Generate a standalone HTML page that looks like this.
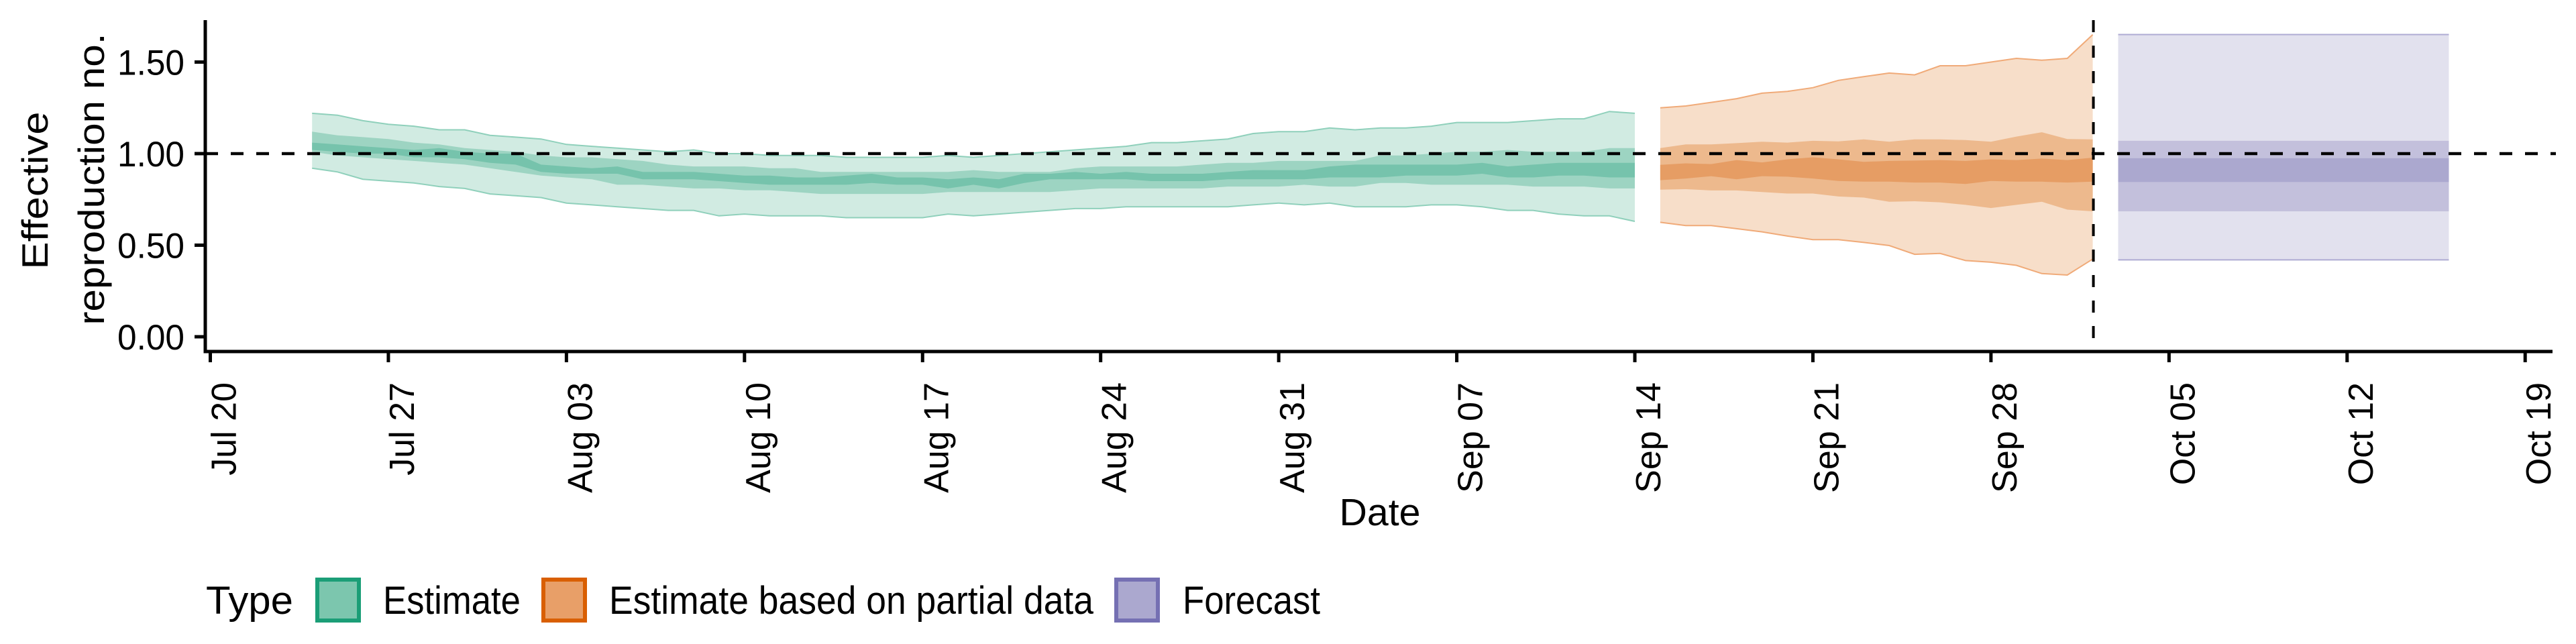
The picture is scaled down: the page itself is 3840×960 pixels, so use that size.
<!DOCTYPE html>
<html><head><meta charset="utf-8">
<style>
html,body{margin:0;padding:0;background:#fff;}
svg{display:block;font-family:"Liberation Sans",Arial,sans-serif;}
</style></head>
<body>
<svg id="chart" width="3840" height="960" viewBox="0 0 3840 960" xmlns="http://www.w3.org/2000/svg">
  <g id="bands"></g>
  <g id="refs"></g>
  <g id="axes"></g>
  <g id="legend"></g>
</svg>
<script>
// ---- data ----
const startDate = "2020-07-20";
const xTickLabels = ["Jul 20","Jul 27","Aug 03","Aug 10","Aug 17","Aug 24","Aug 31","Sep 07","Sep 14","Sep 21","Sep 28","Oct 05","Oct 12","Oct 19"];
const xTickDays = [0,7,14,21,28,35,42,49,56,63,70,77,84,91];
const yTicks = [0, 0.5, 1.0, 1.5];
const yTickLabels = ["0.00","0.50","1.00","1.50"];

// Estimate: days 4..56
const estStartDay = 4;
const estUpper90 = [1.22,1.21,1.18,1.16,1.15,1.13,1.13,1.10,1.09,1.08,1.05,1.04,1.03,1.02,1.01,1.02,1.00,1.00,0.99,0.99,0.99,0.98,0.98,0.98,0.98,0.99,0.98,0.99,1.00,1.01,1.02,1.03,1.04,1.06,1.06,1.07,1.08,1.11,1.12,1.12,1.14,1.13,1.14,1.14,1.15,1.17,1.17,1.17,1.18,1.19,1.19,1.23,1.22];
const estLower90 = [0.92,0.90,0.86,0.85,0.84,0.82,0.81,0.78,0.77,0.76,0.73,0.72,0.71,0.70,0.69,0.69,0.66,0.67,0.66,0.66,0.66,0.65,0.65,0.65,0.65,0.67,0.66,0.67,0.68,0.69,0.70,0.70,0.71,0.71,0.71,0.71,0.71,0.72,0.73,0.72,0.73,0.71,0.71,0.71,0.72,0.72,0.71,0.69,0.69,0.67,0.66,0.66,0.63];
const estUpper50 = [1.12,1.10,1.09,1.08,1.06,1.05,1.03,1.02,1.01,0.99,0.98,0.98,0.97,0.96,0.94,0.93,0.93,0.93,0.92,0.92,0.90,0.90,0.90,0.90,0.90,0.90,0.91,0.90,0.90,0.90,0.92,0.93,0.93,0.93,0.93,0.94,0.95,0.95,0.96,0.96,0.96,0.96,0.99,0.99,1.00,1.01,1.01,1.02,1.01,1.01,1.01,1.03,1.03];
const estLower50 = [1.01,0.99,0.98,0.97,0.96,0.95,0.94,0.92,0.90,0.88,0.87,0.86,0.83,0.83,0.82,0.81,0.81,0.80,0.80,0.79,0.78,0.78,0.78,0.78,0.78,0.79,0.79,0.79,0.79,0.79,0.80,0.81,0.81,0.81,0.81,0.81,0.82,0.82,0.82,0.83,0.82,0.82,0.84,0.84,0.83,0.83,0.83,0.83,0.82,0.82,0.82,0.81,0.81];
const estUpper20 = [1.06,1.05,1.04,1.03,1.02,1.03,1.01,1.00,1.00,0.94,0.93,0.92,0.93,0.90,0.90,0.90,0.89,0.88,0.88,0.87,0.87,0.88,0.89,0.87,0.87,0.86,0.87,0.86,0.89,0.89,0.90,0.89,0.90,0.89,0.89,0.89,0.90,0.91,0.91,0.91,0.93,0.94,0.94,0.94,0.94,0.94,0.95,0.93,0.94,0.95,0.95,0.95,0.95];
const estLower20 = [1.02,1.01,1.00,1.00,0.98,0.98,0.97,0.95,0.94,0.90,0.89,0.89,0.89,0.86,0.86,0.86,0.85,0.84,0.83,0.83,0.83,0.83,0.84,0.83,0.83,0.81,0.83,0.81,0.84,0.86,0.86,0.86,0.86,0.85,0.85,0.85,0.86,0.86,0.86,0.86,0.87,0.87,0.87,0.88,0.88,0.88,0.89,0.87,0.87,0.88,0.88,0.87,0.87];

// Estimate based on partial data: days 57..74
const partStartDay = 57;
const partUpper90 = [1.25,1.26,1.28,1.30,1.33,1.34,1.36,1.40,1.42,1.44,1.43,1.48,1.48,1.50,1.52,1.51,1.52,1.65];
const partLower90 = [0.625,0.607,0.607,0.59,0.573,0.55,0.53,0.53,0.515,0.498,0.45,0.455,0.416,0.407,0.39,0.345,0.337,0.424];
const partUpper50 = [1.03,1.05,1.05,1.057,1.065,1.06,1.07,1.067,1.078,1.065,1.078,1.078,1.074,1.065,1.093,1.117,1.08,1.078];
const partLower50 = [0.803,0.806,0.799,0.799,0.79,0.782,0.782,0.766,0.76,0.737,0.74,0.734,0.72,0.703,0.72,0.737,0.694,0.685];
const partUpper20 = [0.939,0.947,0.943,0.965,0.952,0.969,0.98,0.969,0.955,0.96,0.962,0.965,0.96,0.969,0.965,0.973,0.965,0.978];
const partLower20 = [0.855,0.864,0.877,0.86,0.877,0.874,0.864,0.851,0.847,0.847,0.842,0.842,0.834,0.851,0.847,0.847,0.842,0.847];

// Forecast: days 75..88 (constant)
const fcStartDay = 75;
const fcEndDay = 88;
const fcBands = [1.65, 0.42, 1.07, 0.685, 0.975, 0.845]; // u90,l90,u50,l50,u20,l20

const cutoffDay = 74;
const refValue = 1.0;

// ---- scales ----
const X0 = 313.5, PXDAY = 37.92;
const Y0 = 502, PXUNIT = 273;
function xs(d){ return X0 + d*PXDAY; }
function ys(v){ return Y0 - v*PXUNIT; }
const NS = "http://www.w3.org/2000/svg";
function mk(tag, attrs, parent){
  const e = document.createElementNS(NS, tag);
  for (const k in attrs) e.setAttribute(k, attrs[k]);
  parent.appendChild(e);
  return e;
}

const bands = document.getElementById('bands');
function band(start, up, lo, fill, stroke, name){
  let d = "";
  up.forEach((v,i)=>{ d += (i?"L":"M") + xs(start+i).toFixed(1) + "," + ys(v).toFixed(1); });
  for (let i=lo.length-1;i>=0;i--) d += "L" + xs(start+i).toFixed(1) + "," + ys(lo[i]).toFixed(1);
  d += "Z";
  const p = mk('path', {d: d, fill: fill}, bands);
  
  
  if (stroke){
    let du = "", dl = "";
    up.forEach((v,i)=>{ du += (i?"L":"M") + xs(start+i).toFixed(1) + "," + ys(v).toFixed(1); });
    lo.forEach((v,i)=>{ dl += (i?"L":"M") + xs(start+i).toFixed(1) + "," + ys(v).toFixed(1); });
    const a = mk('path', {d: du, fill:"none", stroke: stroke, "stroke-width": 2}, bands);
    
    
    const b = mk('path', {d: dl, fill:"none", stroke: stroke, "stroke-width": 2}, bands);
    
    
  }
}
band(estStartDay, estUpper90, estLower90, "#d1ebe2", "#8fd0bb", "estimate-band-90");
band(estStartDay, estUpper50, estLower50, "#9dd4c2", null, "estimate-band-50");
band(estStartDay, estUpper20, estLower20, "#76c3ac", null, "estimate-band-20");
band(partStartDay, partUpper90, partLower90, "#f7dec9", "#f0aa78", "partial-band-90");
band(partStartDay, partUpper50, partLower50, "#edb98d", null, "partial-band-50");
band(partStartDay, partUpper20, partLower20, "#e69d64", null, "partial-band-20");
// forecast rectangles
const fcCols = ["#e2e1ee", "#c3c0dc", "#aba8cf"];
const fcNames = ["forecast-band-90","forecast-band-50","forecast-band-20"];
for (let k=0;k<3;k++){
  const u = fcBands[2*k], l = fcBands[2*k+1];
  const r = mk('rect', {x: xs(fcStartDay), y: ys(u), width: xs(fcEndDay)-xs(fcStartDay), height: ys(l)-ys(u), fill: fcCols[k]}, bands);
  
  
  if (k===0){
    const l1 = mk('line', {x1: xs(fcStartDay), x2: xs(fcEndDay), y1: ys(u), y2: ys(u), stroke:"#aeabd3", "stroke-width":2}, bands);
    
    
    const l2 = mk('line', {x1: xs(fcStartDay), x2: xs(fcEndDay), y1: ys(l), y2: ys(l), stroke:"#aeabd3", "stroke-width":2}, bands);
    
    
  }
}

// reference lines
const refs = document.getElementById('refs');
const h = mk('line', {x1: 306, x2: 3810, y1: ys(refValue), y2: ys(refValue), stroke:"#000", "stroke-width":4.5, "stroke-dasharray":"19 19"}, refs);


const v = mk('line', {x1: xs(cutoffDay)+1, x2: xs(cutoffDay)+1, y1: 30, y2: 522, stroke:"#000", "stroke-width":4, "stroke-dasharray":"18 20"}, refs);



// axes
const axes = document.getElementById('axes');
const yl = mk('line', {x1:306, x2:306, y1:30, y2:526, stroke:"#000", "stroke-width":5}, axes);


const xl = mk('line', {x1:303.5, x2:3805, y1:524, y2:524, stroke:"#000", "stroke-width":5}, axes);


yTicks.forEach((t,i)=>{
  const tk = mk('line', {x1:290, x2:306, y1: ys(t), y2: ys(t), stroke:"#000", "stroke-width":5}, axes);
  
  
  const tx = mk('text', {x:275, y: ys(t)+19, "text-anchor":"end", "font-size":53, textLength:100, lengthAdjust:"spacingAndGlyphs", fill:"#000"}, axes);
  tx.textContent = yTickLabels[i];
  
  
});
xTickDays.forEach((d,i)=>{
  const x = xs(d);
  const tk = mk('line', {x1:x, x2:x, y1:526, y2:540, stroke:"#000", "stroke-width":5}, axes);
  
  
  const tx = mk('text', {x:0, y:0, "text-anchor":"end", "font-size":52, fill:"#000", transform:"translate(" + (x+38) + ",570) rotate(-90)"}, axes);
  tx.textContent = xTickLabels[i];
  
  
});
const xt = mk('text', {x:2057, y:783, "text-anchor":"middle", "font-size":57, textLength:121, lengthAdjust:"spacingAndGlyphs", fill:"#000"}, axes);
xt.textContent = "Date";


const yt1 = mk('text', {x:0, y:0, "text-anchor":"middle", "font-size":55, textLength:235, lengthAdjust:"spacingAndGlyphs", fill:"#000", transform:"translate(71,284) rotate(-90)"}, axes);
yt1.textContent = "Effective";


const yt2 = mk('text', {x:0, y:0, "text-anchor":"middle", "font-size":55, textLength:435, lengthAdjust:"spacingAndGlyphs", fill:"#000", transform:"translate(155,267) rotate(-90)"}, axes);
yt2.textContent = "reproduction no.";



// legend
const legend = document.getElementById('legend');
const lt = mk('text', {x:307, y:915, "font-size":58, textLength:130, lengthAdjust:"spacingAndGlyphs", fill:"#000"}, legend);
lt.textContent = "Type";


const legItems = [
  {x:470, tx:571, w:205, label:"Estimate", border:"#1b9e77", fill:"#7cc6ae", name:"legend-entry-estimate"},
  {x:807, tx:908, w:722, label:"Estimate based on partial data", border:"#d95f02", fill:"#e89f68", name:"legend-entry-partial"},
  {x:1661, tx:1763, w:205, label:"Forecast", border:"#7570b3", fill:"#aba8cf", name:"legend-entry-forecast"}
];
legItems.forEach(it=>{
  const g = mk('g', {}, legend);
  
  
  const r = mk('rect', {x: it.x+3, y: 864, width: 62, height: 61, fill: it.fill, stroke: it.border, "stroke-width": 6}, g);
  
  
  const t = mk('text', {x: it.tx, y: 915, "font-size":58, textLength: it.w, lengthAdjust:"spacingAndGlyphs", fill:"#000"}, g);
  t.textContent = it.label;
  
  
});
</script>
</body></html>
